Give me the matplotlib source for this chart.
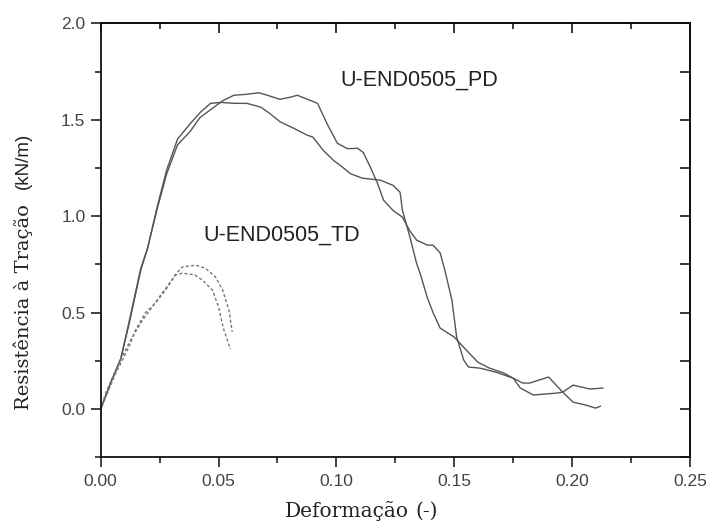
import matplotlib
matplotlib.use("Agg")
import matplotlib.pyplot as plt
from matplotlib.ticker import MultipleLocator, FormatStrFormatter

# PD specimen 1 (higher plateau)
pd1_x = [0, 0.004, 0.0085, 0.012, 0.017, 0.0198, 0.024, 0.028, 0.0326, 0.038, 0.042, 0.048,
         0.052, 0.0565, 0.062, 0.067, 0.0707, 0.076, 0.0805, 0.0834, 0.0869, 0.092, 0.096,
         0.1004, 0.1047, 0.109, 0.1114, 0.1144, 0.1174, 0.120, 0.124, 0.128, 0.131, 0.134,
         0.1386, 0.141, 0.144, 0.146, 0.149, 0.151, 0.154, 0.156, 0.161, 0.168, 0.175,
         0.179, 0.182, 0.190, 0.192, 0.196, 0.2004, 0.206, 0.210, 0.212]
pd1_y = [0, 0.13, 0.26, 0.44, 0.72, 0.83, 1.04, 1.22, 1.37, 1.44, 1.51, 1.565,
         1.60, 1.627, 1.632, 1.64, 1.627, 1.606, 1.617, 1.627, 1.61, 1.585, 1.48,
         1.378, 1.35, 1.352, 1.33, 1.254, 1.171, 1.083, 1.03, 0.995, 0.927, 0.876,
         0.85, 0.85, 0.81, 0.72, 0.565, 0.373, 0.254, 0.218, 0.212, 0.19, 0.16,
         0.135, 0.135, 0.166, 0.14, 0.088, 0.036, 0.02, 0.005, 0.015]

# PD specimen 2 (lower plateau)
pd2_x = [0, 0.004, 0.0085, 0.012, 0.017, 0.0198, 0.024, 0.028, 0.0326, 0.038, 0.0424,
         0.0466, 0.051, 0.0565, 0.062, 0.068, 0.072, 0.076, 0.082, 0.0876, 0.090, 0.0945,
         0.0987, 0.102, 0.106, 0.111, 0.1186, 0.124, 0.127, 0.128, 0.131, 0.134, 0.1356,
         0.1385, 0.141, 0.144, 0.150, 0.154, 0.160, 0.165, 0.171, 0.175, 0.178, 0.1835,
         0.1936, 0.196, 0.2004, 0.2076, 0.213]
pd2_y = [0, 0.13, 0.26, 0.45, 0.73, 0.83, 1.05, 1.24, 1.40, 1.48, 1.54,
         1.585, 1.59, 1.585, 1.585, 1.565, 1.53, 1.49, 1.455, 1.42, 1.41, 1.34,
         1.29, 1.26, 1.22, 1.197, 1.187, 1.16, 1.124, 1.03, 0.90, 0.756, 0.70,
         0.58, 0.50, 0.42, 0.373, 0.32, 0.243, 0.212, 0.187, 0.16, 0.109, 0.073,
         0.083, 0.088, 0.124, 0.104, 0.109]

# TD specimens (dashed)
td1_x = [0, 0.0064, 0.0119, 0.0148, 0.019, 0.0233, 0.0275, 0.0318, 0.0347, 0.0403,
         0.0445, 0.0487, 0.0517, 0.0544, 0.0558]
td1_y = [0, 0.186, 0.32, 0.41, 0.50, 0.55, 0.617, 0.70, 0.737, 0.746,
         0.73, 0.685, 0.617, 0.513, 0.40]
td2_x = [0, 0.0021, 0.0077, 0.0134, 0.0177, 0.026, 0.0318, 0.0347, 0.040, 0.0432,
         0.0474, 0.050, 0.052, 0.055]
td2_y = [0, 0.083, 0.24, 0.373, 0.46, 0.60, 0.695, 0.705, 0.695, 0.668,
         0.617, 0.53, 0.42, 0.31]

label_pd = "U-END0505_PD"
label_td = "U-END0505_TD"
xlabel = "Deformação"
ylabel = "Resistência à Tração"

fig = plt.figure(figsize=(7.08, 5.25), dpi=100)
ax = fig.add_axes([100.7/708, (525-457.3)/525, (690-100.7)/708, (457.3-23.3)/525])

solid_c = "#555555"
ax.plot(pd1_x, pd1_y, color=solid_c, lw=1.0)
ax.plot(pd2_x, pd2_y, color=solid_c, lw=1.0)
ax.plot(td1_x, td1_y, color="#777777", lw=1.0, dashes=(2.2, 1.6))
ax.plot(td2_x, td2_y, color="#777777", lw=1.0, dashes=(2.2, 1.6))

ax.set_xlim(0, 0.25)
ax.set_ylim(-0.25, 2.0)
ax.xaxis.set_major_locator(MultipleLocator(0.05))
ax.xaxis.set_minor_locator(MultipleLocator(0.025))
ax.yaxis.set_major_locator(MultipleLocator(0.5))
ax.yaxis.set_minor_locator(MultipleLocator(0.25))
ax.xaxis.set_major_formatter(FormatStrFormatter("%.2f"))
ax.yaxis.set_major_formatter(FormatStrFormatter("%.1f"))

for s in ax.spines.values():
    s.set_linewidth(1.3)
    s.set_color("#111111")

tick_font = dict(family="Liberation Sans", size=12.5)
ax.tick_params(axis="both", which="major", length=7, width=1.1, colors="#111111",
               labelcolor="#444444", labelsize=12.5)
ax.tick_params(axis="both", which="minor", length=4, width=1.1, colors="#111111")
ax.tick_params(axis="x", which="both", direction="out", top=False, pad=5)
ax.tick_params(axis="y", which="both", direction="out", right=False, pad=4)
for lab in ax.get_xticklabels() + ax.get_yticklabels():
    lab.set_fontfamily("Liberation Sans")

# top and right ticks pointing inward
sec_x = ax.secondary_xaxis("top")
sec_x.xaxis.set_major_locator(MultipleLocator(0.05))
sec_x.xaxis.set_minor_locator(MultipleLocator(0.025))
sec_x.tick_params(which="major", direction="in", length=7, width=1.1, labeltop=False)
sec_x.tick_params(which="minor", direction="in", length=4, width=1.1)
sec_x.spines["top"].set_linewidth(1.3)
sec_y = ax.secondary_yaxis("right")
sec_y.yaxis.set_major_locator(MultipleLocator(0.25))
sec_y.tick_params(which="major", direction="in", length=7, width=1.1, labelright=False)
sec_y.tick_params(which="minor", right=False)
sec_y.spines["right"].set_linewidth(1.3)

ax.text(0.1017, 1.705, label_pd, fontsize=15.5, family="Liberation Sans",
        color="#222222", va="center", ha="left")
ax.text(0.0436, 0.90, label_td, fontsize=15.5, family="Liberation Sans",
        color="#222222", va="center", ha="left")

fig.text(285/708, 1 - 511/525, xlabel, fontsize=14.5, family="DejaVu Serif",
         color="#222222", ha="left", va="center")
fig.text(415/708, 1 - 511/525, "(-)", fontsize=14.5, family="DejaVu Serif",
         color="#222222", ha="left", va="center")
fig.text(23/708, 1 - 410/525, ylabel, fontsize=14, family="DejaVu Serif",
         color="#222222", ha="center", va="bottom", rotation=90)
fig.text(23/708, 1 - 133/525, "(kN/m)", fontsize=13.5, family="Liberation Sans",
         color="#222222", ha="center", va="top", rotation=90)

fig.savefig("out.png", dpi=100)
